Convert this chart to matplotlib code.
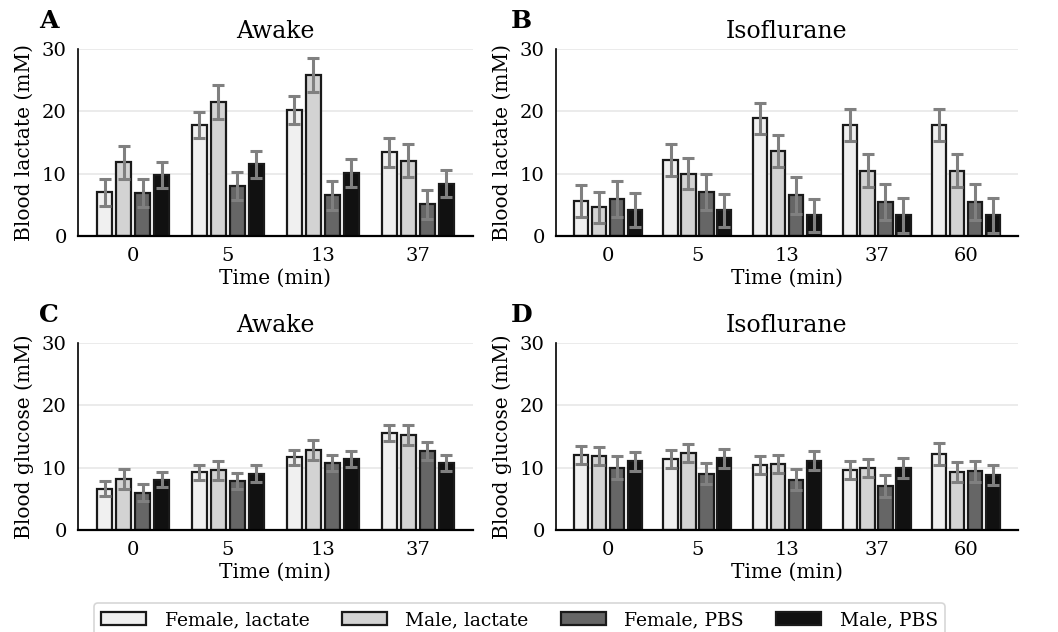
import numpy as np
import matplotlib.pyplot as plt
from matplotlib.patches import Patch

plt.rcParams['font.family'] = ['DejaVu Serif']

groups = ['Female, lactate', 'Male, lactate', 'Female, PBS', 'Male, PBS']
colors = ['#f0f0f0', '#d3d3d3', '#666666', '#111111']

times_awake = ['0', '5', '13', '37']
times_iso = ['0', '5', '13', '37', '60']

# panel A: awake lactate (rows = group, cols = time)
lac_awake = [[7.0, 17.8, 20.2, 13.4],
             [11.8, 21.5, 25.8, 12.1],
             [6.9, 8.0, 6.5, 5.1],
             [9.8, 11.5, 10.1, 8.4]]
lac_awake_err = [[2.2, 2.1, 2.2, 2.3],
                 [2.7, 2.7, 2.7, 2.7],
                 [2.3, 2.3, 2.3, 2.3],
                 [2.1, 2.2, 2.2, 2.2]]

# panel B: isoflurane lactate
lac_iso = [[5.6, 12.2, 18.9, 17.8, 17.8],
           [4.6, 10.0, 13.6, 10.5, 10.5],
           [5.9, 7.0, 6.5, 5.4, 5.4],
           [4.2, 4.1, 3.3, 3.3, 3.3]]
lac_iso_err = [[2.6, 2.5, 2.5, 2.6, 2.6],
               [2.5, 2.5, 2.6, 2.6, 2.6],
               [2.9, 2.9, 3.0, 2.9, 2.9],
               [2.7, 2.7, 2.7, 2.8, 2.8]]

# panel C: awake glucose
glu_awake = [[6.6, 9.3, 11.7, 15.5],
             [8.2, 9.6, 12.9, 15.3],
             [6.0, 7.8, 10.7, 12.7],
             [8.1, 9.05, 11.4, 10.8]]
glu_awake_err = [[1.2, 1.2, 1.2, 1.3],
                 [1.6, 1.5, 1.6, 1.6],
                 [1.4, 1.3, 1.3, 1.4],
                 [1.2, 1.3, 1.3, 1.3]]

# panel D: isoflurane glucose
glu_iso = [[12.05, 11.4, 10.5, 9.6, 12.2],
           [11.8, 12.3, 10.55, 10.0, 9.3],
           [10.0, 9.05, 8.1, 7.1, 9.4],
           [11.0, 11.5, 11.1, 10.0, 8.8]]
glu_iso_err = [[1.45, 1.45, 1.45, 1.45, 1.7],
               [1.45, 1.45, 1.45, 1.45, 1.6],
               [1.8, 1.7, 1.7, 1.8, 1.7],
               [1.55, 1.55, 1.55, 1.6, 1.65]]


def draw_panel(ax, times, vals, errs, title, ylabel, letter, lx):
    x = np.arange(len(times))
    for i in range(4):
        off = (i - 1.5) * 0.2
        ax.bar(x + off, vals[i], width=0.16, color=colors[i],
               edgecolor='#1a1a1a', linewidth=1.6, zorder=2)
        ax.errorbar(x + off, vals[i], yerr=errs[i], fmt='none',
                    ecolor='#808080', elinewidth=2.2, capsize=4.5,
                    capthick=2.2, zorder=3)
    ax.set_xticks(x)
    ax.set_xticklabels(times)
    ax.set_xlim(-0.58, len(times) - 0.42)
    ax.set_ylim(0, 30)
    ax.set_yticks([0, 10, 20, 30])
    ax.yaxis.grid(True, color='#e8e8e8', linewidth=1.2, zorder=0)
    ax.set_axisbelow(True)
    for s in ['top', 'right']:
        ax.spines[s].set_visible(False)
    ax.spines['left'].set_linewidth(1.2)
    ax.spines['bottom'].set_linewidth(1.6)
    ax.tick_params(length=0, labelsize=14, pad=8)
    ax.set_xlabel('Time (min)', fontsize=14.5, labelpad=3)
    ax.set_ylabel(ylabel, fontsize=14.5, labelpad=6)
    ax.set_title(title, fontsize=17, pad=8)
    bb = ax.get_position()
    fig.text(lx, bb.y1 + 0.044, letter, fontsize=18,
             fontweight='bold', va='center', ha='left')


fig = plt.figure(figsize=(10.58, 6.32), dpi=100)
axA = fig.add_axes([0.0737, 0.6266, 0.3733, 0.2959])
axB = fig.add_axes([0.5255, 0.6266, 0.4367, 0.2959])
axC = fig.add_axes([0.0737, 0.1614, 0.3733, 0.2959])
axD = fig.add_axes([0.5255, 0.1614, 0.4367, 0.2959])

draw_panel(axA, times_awake, lac_awake, lac_awake_err, 'Awake', 'Blood lactate (mM)', 'A', 0.037)
draw_panel(axB, times_iso, lac_iso, lac_iso_err, 'Isoflurane', 'Blood lactate (mM)', 'B', 0.483)
draw_panel(axC, times_awake, glu_awake, glu_awake_err, 'Awake', 'Blood glucose (mM)', 'C', 0.037)
draw_panel(axD, times_iso, glu_iso, glu_iso_err, 'Isoflurane', 'Blood glucose (mM)', 'D', 0.483)

handles = [Patch(facecolor=colors[i], edgecolor='#1a1a1a', linewidth=1.6) for i in range(4)]
leg = fig.legend(handles, groups, loc='upper center', bbox_to_anchor=(0.491, 0.06),
                 ncol=4, fontsize=13.5, frameon=True, handlelength=2.4,
                 handleheight=0.75, columnspacing=1.7, handletextpad=1.0,
                 borderpad=0.4, fancybox=True)
leg.get_frame().set_edgecolor('#cccccc')
leg.get_frame().set_linewidth(1.2)

fig.savefig('out.png', dpi=100)
